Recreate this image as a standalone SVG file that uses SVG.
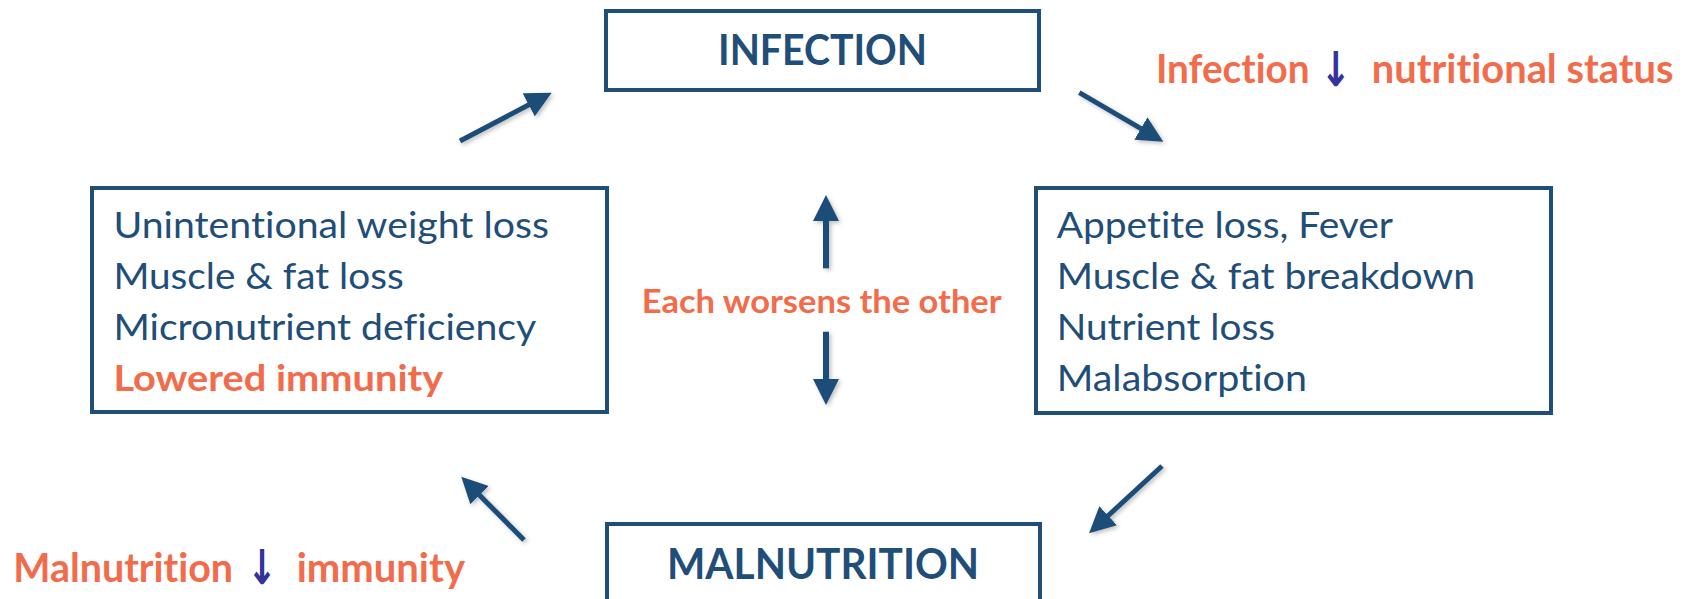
<svg xmlns="http://www.w3.org/2000/svg" width="1690" height="599" viewBox="0 0 1690 599">
  <style>
    text { font-variant-ligatures: none; }
    .box { fill: #ffffff; stroke: #1f4e79; stroke-width: 4; }
    .title { font-family: Lato, "Liberation Sans", sans-serif; font-weight: bold; fill: #1f4e79; }
    .body { font-family: Lato, "Liberation Sans", sans-serif; font-size: 37px; fill: #1f4e79; }
    .hl { font-family: Lato, "Liberation Sans", sans-serif; font-weight: bold; fill: #f26b4a; }
    .arr { font-family: "DejaVu Sans", sans-serif; font-weight: bold; fill: #33339b; }
    .conn { stroke: #1f4e79; fill: none; }
  </style>
  <defs>
    <marker id="head" viewBox="0 0 26 26" refX="13" refY="13" markerWidth="26" markerHeight="26" markerUnits="userSpaceOnUse" orient="auto">
      <path d="M0,0 L26,13 L0,26 z" fill="#1f4e79"/>
    </marker>
    <filter id="shadow" x="-20%" y="-20%" width="140%" height="140%">
      <feDropShadow dx="2" dy="2" stdDeviation="2" flood-color="#000000" flood-opacity="0.25"/>
    </filter>
  </defs>
  <rect width="1690" height="599" fill="#ffffff"/>

  <g id="connectors" filter="url(#shadow)">
    <line class="conn" stroke-width="5" x1="460" y1="141" x2="540.2" y2="98.8" marker-end="url(#head)"/>
    <line class="conn" stroke-width="5" x1="1079.3" y1="92.7" x2="1152.1" y2="135.1" marker-end="url(#head)"/>
    <line class="conn" stroke-width="5" x1="1162" y1="466" x2="1098.6" y2="524.5" marker-end="url(#head)"/>
    <line class="conn" stroke-width="5" x1="524" y1="540" x2="470.4" y2="485.9" marker-end="url(#head)"/>
    <line class="conn" stroke-width="6" x1="826" y1="268.3" x2="826" y2="208" marker-end="url(#head)"/>
    <line class="conn" stroke-width="6" x1="826" y1="331.7" x2="826" y2="392" marker-end="url(#head)"/>
  </g>

  <g id="infection">
    <rect class="box" x="606" y="11" width="433" height="79"/>
    <text class="title" x="718" y="65" font-size="42" textLength="209" lengthAdjust="spacingAndGlyphs">INFECTION</text>
  </g>

  <g id="malnutrition">
    <rect class="box" x="607" y="524" width="433" height="100"/>
    <text class="title" x="667" y="579" font-size="41.5" textLength="312" lengthAdjust="spacingAndGlyphs">MALNUTRITION</text>
  </g>

  <g id="malnutrition-effects">
    <rect class="box" x="92" y="188" width="515" height="224"/>
    <text class="body" x="113.4" y="237.5" textLength="435.6" lengthAdjust="spacingAndGlyphs">Unintentional weight loss</text>
    <text class="body" x="113.4" y="288.5" textLength="290.3" lengthAdjust="spacingAndGlyphs">Muscle &amp; fat loss</text>
    <text class="body" x="113.4" y="339.5" textLength="422.9" lengthAdjust="spacingAndGlyphs">Micronutrient deficiency</text>
    <text class="hl" x="113.4" y="391" font-size="37" textLength="329.9" lengthAdjust="spacingAndGlyphs">Lowered immunity</text>
  </g>

  <g id="infection-effects">
    <rect class="box" x="1036" y="188" width="515" height="225"/>
    <text class="body" x="1056.7" y="237.5" textLength="336.3" lengthAdjust="spacingAndGlyphs">Appetite loss, Fever</text>
    <text class="body" x="1056.7" y="288.5" textLength="418.3" lengthAdjust="spacingAndGlyphs">Muscle &amp; fat breakdown</text>
    <text class="body" x="1056.7" y="339.5" textLength="218.3" lengthAdjust="spacingAndGlyphs">Nutrient loss</text>
    <text class="body" x="1056.7" y="391" textLength="250.3" lengthAdjust="spacingAndGlyphs">Malabsorption</text>
  </g>

  <g id="center-label">
    <text class="hl" x="641.7" y="312.7" font-size="31.7" textLength="360" lengthAdjust="spacingAndGlyphs">Each worsens the other</text>
  </g>

  <g id="infection-note">
    <text class="hl" y="83.3" font-size="39.5"><tspan x="1155.9" textLength="153.7" lengthAdjust="spacingAndGlyphs">Infection</tspan> <tspan class="arr" x="1340.5" y="86" text-anchor="middle" font-size="48" textLength="31" lengthAdjust="spacingAndGlyphs">↓</tspan> <tspan x="1371.8" y="83.3" textLength="301.6" lengthAdjust="spacingAndGlyphs">nutritional status</tspan></text>
  </g>

  <g id="malnutrition-note">
    <text class="hl" y="581.7" font-size="39.6"><tspan x="13.3" textLength="219.7" lengthAdjust="spacingAndGlyphs">Malnutrition</tspan> <tspan class="arr" x="266.7" y="584.4" text-anchor="middle" font-size="48" textLength="30" lengthAdjust="spacingAndGlyphs">↓</tspan> <tspan x="296.7" y="581.7" textLength="168.3" lengthAdjust="spacingAndGlyphs">immunity</tspan></text>
  </g>
</svg>
